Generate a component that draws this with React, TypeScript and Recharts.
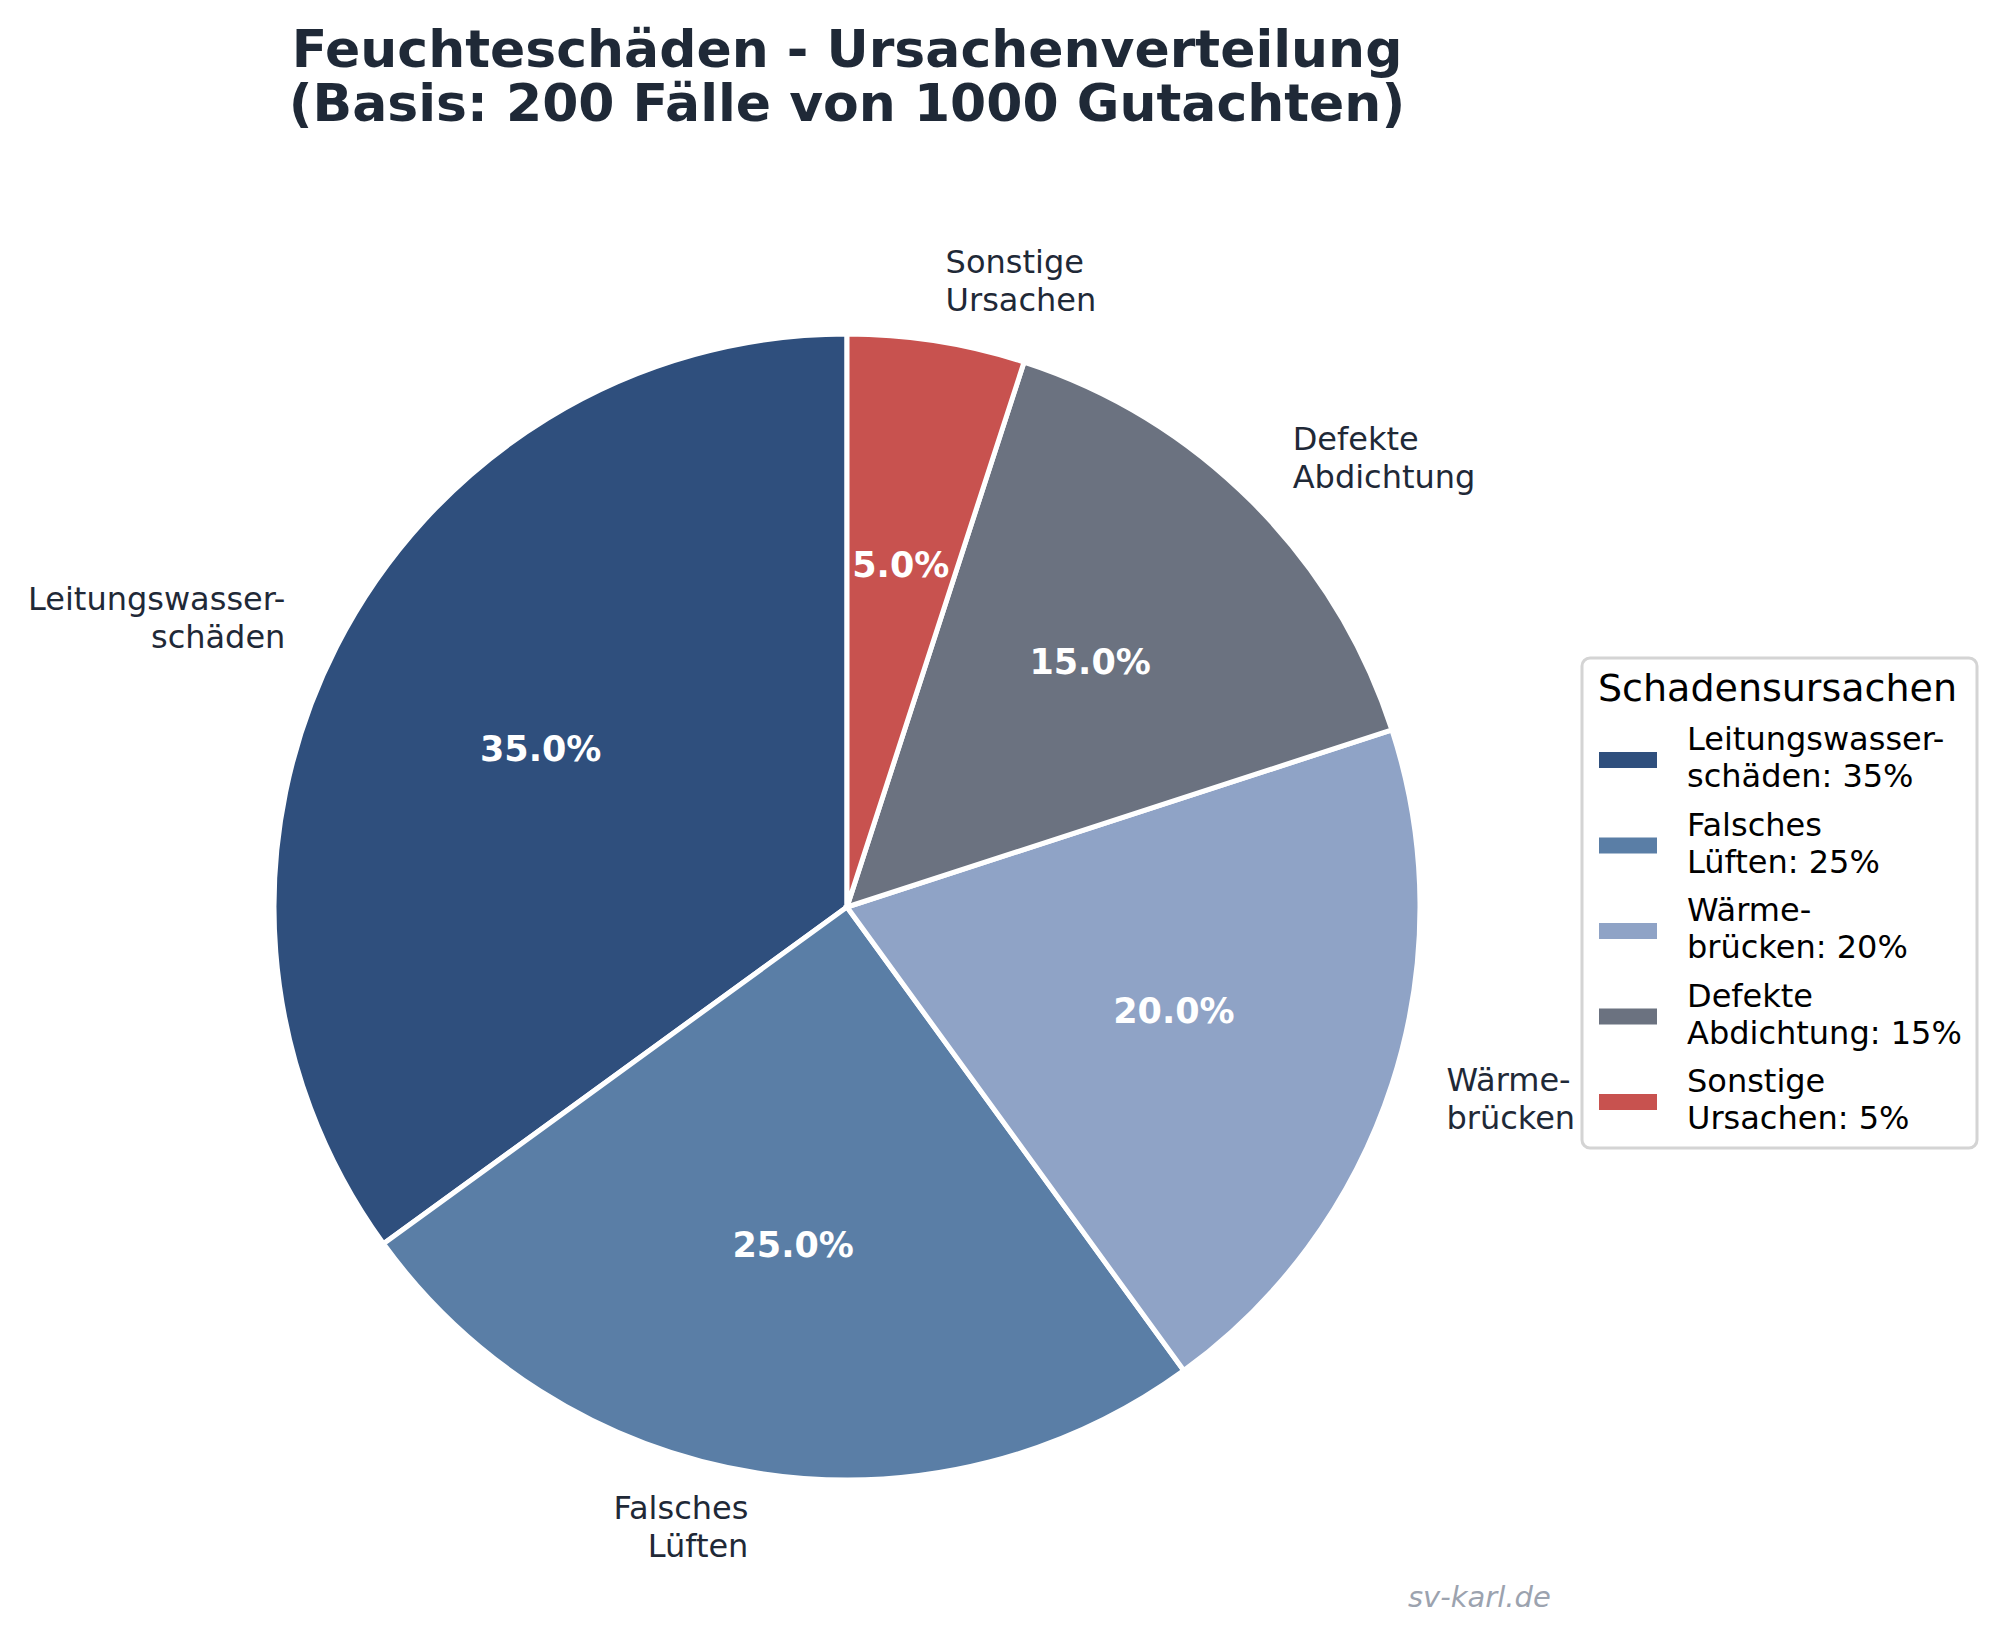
import { Cell, Pie, PieChart } from 'recharts'

const causes = [
    'Leitungswasser-\nschäden',
    'Falsches\nLüften',
    'Wärme-\nbrücken',
    'Defekte\nAbdichtung',
    'Sonstige\nUrsachen',
]
const shares = [35, 25, 20, 15, 5]
const colors = ['#2F4F7D', '#5A7EA6', '#8FA3C6', '#6B7280', '#C8524F']
const legendTitle = 'Schadensursachen'
const titleLines = ['Feuchteschäden - Ursachenverteilung', '(Basis: 200 Fälle von 1000 Gutachten)']

const data = causes.map((name, i) => ({ name, value: shares[i] }))

const FONT = 'DejaVu Sans, sans-serif'
const TEXT = '#1F2937'
const RADIAN = Math.PI / 180

const CX = 847
const CY = 907
const R = 573

const renderLabel = (props: any) => {
    const { cx, cy, midAngle, outerRadius, percent, index } = props
    const cos = Math.cos(-midAngle * RADIAN)
    const sin = Math.sin(-midAngle * RADIAN)
    // name outside at 1.1r, percentage inside at 0.6r
    const ox = cx + outerRadius * 1.1 * cos
    const oy = cy + outerRadius * 1.1 * sin
    const ix = cx + outerRadius * 0.6 * cos
    const iy = cy + outerRadius * 0.6 * sin
    const lines = causes[index].split('\n')
    const lh = 38
    const first = oy - ((lines.length - 1) * lh) / 2 + 8
    return (
        <g>
            <text
                x={ox}
                y={first}
                textAnchor={cos >= 0 ? 'start' : 'end'}
                fontFamily={FONT}
                fontSize={32}
                fill={TEXT}
            >
                {lines.map((l, i) => (
                    <tspan key={i} x={ox} y={first + i * lh}>{l}</tspan>
                ))}
            </text>
            <text
                x={ix}
                y={iy + 10}
                textAnchor='middle'
                fontFamily={FONT}
                fontSize={35}
                fontWeight='bold'
                fill='#FFFFFF'
            >
                {(percent * 100).toFixed(1)}%
            </text>
        </g>
    )
}

const Legend = () => {
    const x0 = 1582
    const y0 = 658
    return (
        <g fontFamily={FONT}>
            <rect x={x0} y={y0} width={395} height={490} rx={8} fill='#FFFFFF' fillOpacity={0.8} stroke='#D4D4D4' strokeWidth={3} />
            <text x={x0 + 16} y={701} fontSize={38} fill='#000000'>{legendTitle}</text>
            {causes.map((c, i) => {
                const cy = 760 + i * 85.5
                const [a, b] = c.split('\n')
                return (
                    <g key={c}>
                        <rect x={1599} y={cy - 8} width={58} height={16} fill={colors[i]} />
                        <text fontSize={32} fill='#000000'>
                            <tspan x={1687} y={cy - 10}>{a}</tspan>
                            <tspan x={1687} y={cy + 27}>{b}: {shares[i]}%</tspan>
                        </text>
                    </g>
                )
            })}
        </g>
    )
}

const App = () => {
    return (
        <div style={{ position: 'absolute', left: 0, top: 0, background: '#FFFFFF' }}>
            <PieChart width={2000} height={1649} margin={{ top: 0, right: 0, bottom: 0, left: 0 }}>
                <text textAnchor='middle' fontFamily={FONT} fontWeight='bold' fontSize={52} fill={TEXT}>
                    <tspan x={847} y={67}>{titleLines[0]}</tspan>
                    <tspan x={847} y={121}>{titleLines[1]}</tspan>
                </text>
                <Pie
                    data={data}
                    dataKey='value'
                    nameKey='name'
                    cx={CX}
                    cy={CY}
                    outerRadius={R}
                    startAngle={90}
                    endAngle={450}
                    stroke='#FFFFFF'
                    strokeWidth={5}
                    label={renderLabel}
                    labelLine={false}
                    isAnimationActive={false}
                >
                    {data.map((d, i) => (
                        <Cell key={d.name} fill={colors[i]} stroke='#FFFFFF' strokeWidth={5} />
                    ))}
                </Pie>
                <Legend />
                <text x={1408} y={1607} fontFamily={FONT} fontSize={29} fontStyle='italic' fill='#9CA3AF'>sv-karl.de</text>
            </PieChart>
        </div>
    )
}

export default App
